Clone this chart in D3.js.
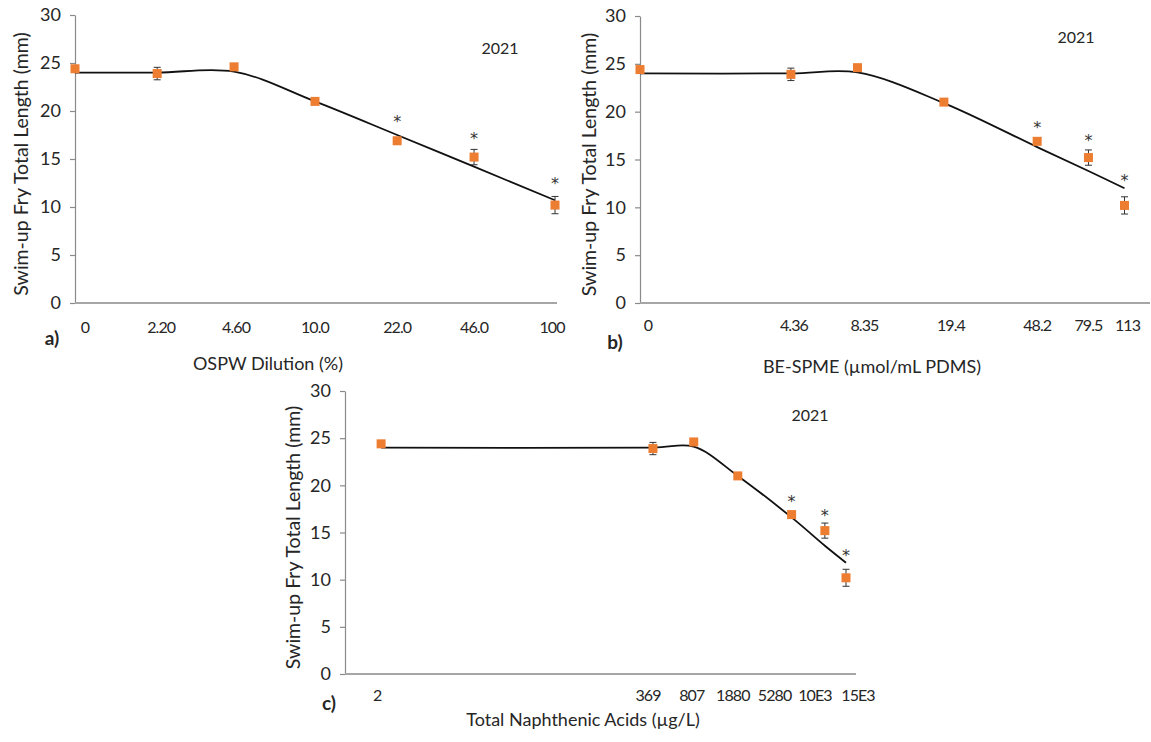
<!DOCTYPE html>
<html><head><meta charset="utf-8">
<script src="https://cdn.jsdelivr.net/npm/d3@7"></script>
<style>
body{margin:0;background:#fff}
svg{display:block}
text{font-family:Lato,"Open Sans",sans-serif;fill:#262626}
</style>
</head><body>
<svg id="chart" width="1151" height="742"></svg>
<script>
// ---------- data ----------
const yearLabel = "2021";
const yTitle = "Swim-up Fry Total Length (mm)";
const yTicks = [0, 5, 10, 15, 20, 25, 30];
const meanLength = [24.4, 23.9, 24.6, 21.0, 16.9, 15.2, 10.2];
const errLength  = [0.3, 0.65, 0.3, 0.2, 0.3, 0.8, 0.9];
const sigIndex = [4, 5, 6];

const aX = [0, 2.2, 4.6, 10, 22, 46, 100];
const aTickLabels = ["0", "2.20", "4.60", "10.0", "22.0", "46.0", "100"];
const aFit = [24.0, 24.0, 24.1, 21.0, 17.5, 14.2, 10.7];
const aStar = [19.3, 17.5, 12.8];

const bX = [0, 4.36, 8.35, 19.4, 48.2, 79.5, 113];
const bTickLabels = ["0", "4.36", "8.35", "19.4", "48.2", "79.5", "113"];
const bFit = [24.0, 24.0, 24.1, 20.9, 16.3, 13.8, 12.0];
const bStar = [18.7, 17.3, 13.2];

const cX = [2, 369, 807, 1880, 5280, 10000, 15000];
const cTickLabels = ["2", "369", "807", "1880", "5280", "10E3", "15E3"];
const cFit = [24.0, 24.0, 24.1, 21.0, 16.6, 13.6, 11.8];
const cStar = [18.7, 17.2, 12.9];

// ---------- layout ----------
const panels = [
  {tag: "a)", xs: aX, labels: aTickLabels, fit: aFit, star: aStar, title: "OSPW Dilution (%)",
   left: 75, dataRight: 555, axisRight: 557, top: 15, bottom: 303,
   nudge: [10, 4, 2, 0, 0, 0, -3], tickY: 24, titleX: 268, titleY: 364,
   tagX: 52, tagY: 338, yearX: 500, yearY: 48, yTitleX: 20},
  {tag: "b)", xs: bX, labels: bTickLabels, fit: bFit, star: bStar, title: "BE-SPME (\u00b5mol/mL PDMS)",
   left: 640, dataRight: 1124.5, axisRight: 1150, top: 16, bottom: 303,
   nudge: [8, 3, 7, 7, 0, 0, 3], tickY: 22, titleX: 872, titleY: 367,
   tagX: 615, tagY: 342, yearX: 1076, yearY: 37, yTitleX: 588},
  {tag: "c)", xs: cX, labels: cTickLabels, fit: cFit, star: cStar, title: "Total Naphthenic Acids (\u00b5g/L)",
   left: 345, dataRight: 846, axisRight: 856, top: 391, bottom: 674,
   nudge: [-4, -5, -2, -5, -17, -10, 12], tickY: 21, titleX: 583, titleY: 720,
   tagX: 329, tagY: 703, yearX: 810, yearY: 415, yTitleX: 292}
];

const svg = d3.select("#chart");
const orange = "#ED7D31";

panels.forEach(p => {
  const g = svg.append("g");
  const xMax = p.xs[p.xs.length - 1];
  const x = d3.scaleLog().domain([1, xMax]).range([p.left, p.dataRight]);
  const xp = v => x(Math.max(v, 1));
  const y = d3.scaleLinear().domain([0, 30]).range([p.bottom, p.top]);

  // y axis
  const ya = g.append("g").attr("transform", `translate(${p.left},0)`)
    .call(d3.axisLeft(y).tickValues(yTicks).tickSize(5).tickSizeOuter(0).tickPadding(9));
  ya.select(".domain").attr("stroke", "#8a8a8a").attr("stroke-width", 1.2);
  ya.selectAll(".tick line").attr("stroke", "#8a8a8a").attr("stroke-width", 1.2);
  ya.selectAll(".tick text").attr("font-size", 18).attr("font-family", "Lato").attr("fill", "#262626");

  // x axis line
  g.append("line").attr("x1", p.left).attr("x2", p.axisRight)
    .attr("y1", y(0)).attr("y2", y(0)).attr("stroke", "#a6a6a6").attr("stroke-width", 2);

  // x tick labels
  g.selectAll(".xl").data(p.labels).join("text")
    .attr("x", (d, i) => xp(p.xs[i]) + p.nudge[i])
    .attr("y", y(0) + p.tickY + 6)
    .attr("text-anchor", "middle").attr("font-size", 16)
    .attr("letter-spacing", -0.9).text(d => d);

  // fitted curve
  const pts = p.xs.map((v, i) => [xp(v), y(p.fit[i])]);
  g.append("path").attr("d", d3.line().curve(d3.curveCatmullRom.alpha(0.5))(pts))
    .attr("fill", "none").attr("stroke", "#111").attr("stroke-width", 1.8);

  // error bars
  const eb = g.selectAll(".eb").data(meanLength).join("g");
  eb.append("line").attr("x1", (d, i) => xp(p.xs[i])).attr("x2", (d, i) => xp(p.xs[i]))
    .attr("y1", (d, i) => y(d - errLength[i])).attr("y2", (d, i) => y(d + errLength[i]))
    .attr("stroke", "#333").attr("stroke-width", 1);
  eb.append("line").attr("x1", (d, i) => xp(p.xs[i]) - 3.5).attr("x2", (d, i) => xp(p.xs[i]) + 3.5)
    .attr("y1", (d, i) => y(d + errLength[i])).attr("y2", (d, i) => y(d + errLength[i]))
    .attr("stroke", "#333").attr("stroke-width", 1);
  eb.append("line").attr("x1", (d, i) => xp(p.xs[i]) - 3.5).attr("x2", (d, i) => xp(p.xs[i]) + 3.5)
    .attr("y1", (d, i) => y(d - errLength[i])).attr("y2", (d, i) => y(d - errLength[i]))
    .attr("stroke", "#333").attr("stroke-width", 1);

  // markers
  g.selectAll(".mk").data(meanLength).join("rect")
    .attr("x", (d, i) => xp(p.xs[i]) - 4.5).attr("y", d => y(d) - 4.5)
    .attr("width", 9).attr("height", 9).attr("fill", orange);

  // significance stars
  g.selectAll(".st").data(sigIndex).join("text")
    .attr("x", d => xp(p.xs[d])).attr("y", (d, k) => y(p.star[k]) + 9)
    .attr("text-anchor", "middle").attr("font-size", 16)
    .style("font-family", "'DejaVu Sans'").style("fill", "#333").text("*");

  // year
  g.append("text").attr("x", p.yearX).attr("y", p.yearY + 6).attr("text-anchor", "middle")
    .attr("font-size", 16).text(yearLabel);

  // y title
  g.append("text").attr("transform", `translate(${p.yTitleX},${(p.top + p.bottom) / 2 + 5}) rotate(-90)`)
    .attr("text-anchor", "middle").attr("dominant-baseline", "central")
    .attr("font-size", 19.5).text(yTitle);

  // x title
  g.append("text").attr("x", p.titleX).attr("y", p.titleY + 6).attr("text-anchor", "middle")
    .attr("font-size", 18).text(p.title);

  // panel tag
  g.append("text").attr("x", p.tagX).attr("y", p.tagY + 7).attr("text-anchor", "middle")
    .attr("font-size", 19).attr("font-weight", "bold").text(p.tag);
});
</script>
</body></html>
